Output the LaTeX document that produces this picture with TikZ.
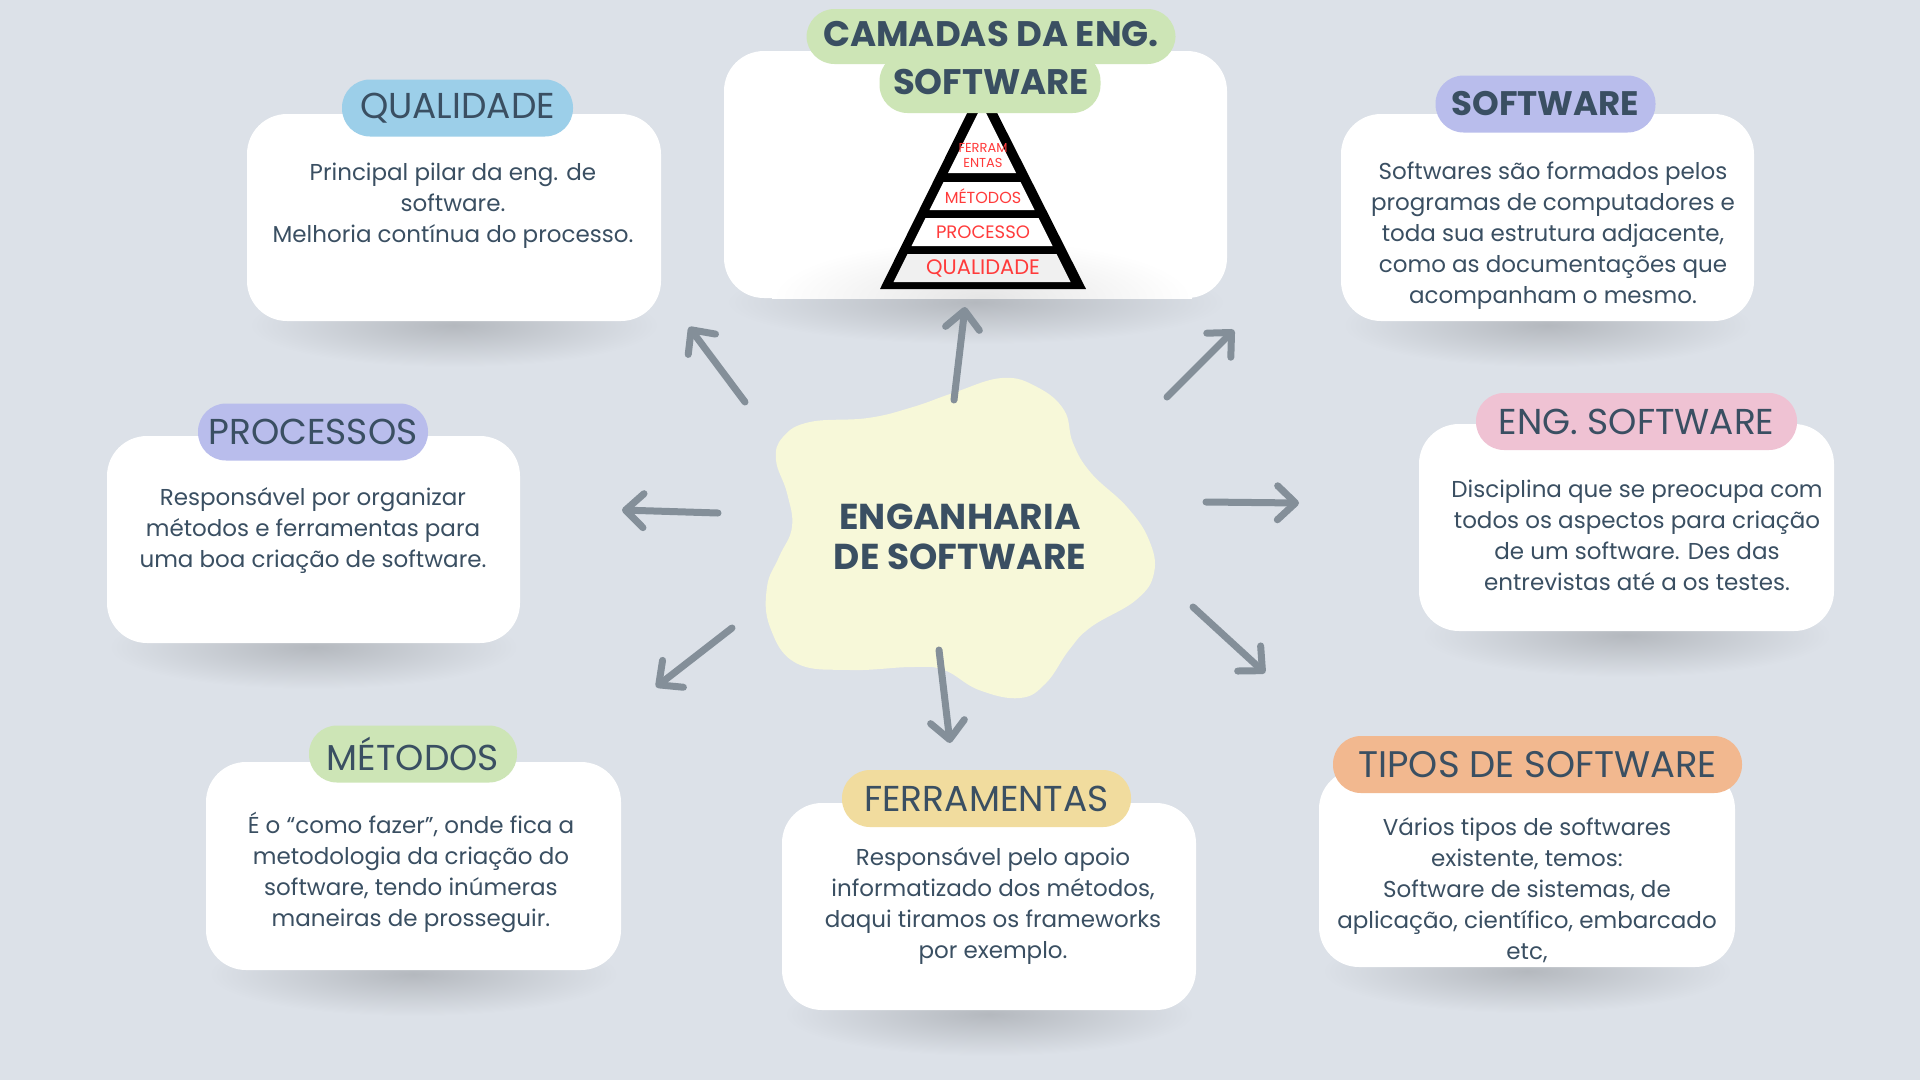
\documentclass[tikz,border=0pt]{standalone}
\usepackage{fontspec}
\setmainfont{Poppins}
\usetikzlibrary{arrows.meta}

\definecolor{bg}{HTML}{DCE1E8}
\definecolor{ink}{HTML}{3A4F62}
\definecolor{arrowc}{HTML}{848F99}
\definecolor{blobc}{HTML}{F7F8D9}
\definecolor{pblue}{HTML}{9CCFE9}
\definecolor{pgreen}{HTML}{CDE5B6}
\definecolor{plilac}{HTML}{B9BDEC}
\definecolor{ppink}{HTML}{EFC2D3}
\definecolor{pyellow}{HTML}{F1DC9E}
\definecolor{porange}{HTML}{F2B88F}
\definecolor{pyrred}{HTML}{FF3B3B}
\colorlet{shadowc}{bg!82!black}

\begin{document}
\begin{tikzpicture}[x=1pt,y=-1pt,
  card/.style={fill=white, rounded corners=40pt, inner sep=0pt},
  pill/.style={rounded corners=28pt, inner sep=0pt, minimum height=57pt,
    text=ink, font=\fontsize{36}{42}\selectfont},
  boldtitle/.style={text=ink, inner sep=0pt, align=center},
  bodytext/.style={text=ink, inner sep=0pt, align=center,
    font=\fontsize{23}{31}\selectfont},
  layer/.style={text=pyrred, inner sep=0pt, align=center},
  conn/.style={draw=arrowc, line width=7pt, line cap=round,
    -{Straight Barb[length=18pt, width=34pt, line cap=round, line join=round]}}
]
% canvas
\fill[bg] (0,0) rectangle (1920,1080);
\useasboundingbox (0,0) rectangle (1920,1080);

% ---------- soft shadows under the cards (centre x, bottom y, half width) ----------
\foreach \cx/\by/\hw in {454/321/205, 975.5/298/250, 1547.5/321/205, 313.5/643/205,
                         1626.5/631/205, 413.5/970/205, 989/1010/205, 1527/967/205}
  \shade[inner color=shadowc, outer color=bg] (\cx,\by+4) ellipse (\hw pt and 42pt);

% ---------- white cards ----------
\node[card, minimum width=414pt, minimum height=207pt] (qualbox) at (454,217.5) {};
\node[card, minimum width=503pt, minimum height=247pt] (cambox)  at (975.5,174.5) {};
\node[card, minimum width=413pt, minimum height=207pt] (softbox) at (1547.5,217.5) {};
\node[card, minimum width=413pt, minimum height=207pt] (procbox) at (313.5,539.5) {};
\node[card, minimum width=415pt, minimum height=207pt] (engbox)  at (1626.5,527.5) {};
\node[card, minimum width=415pt, minimum height=208pt] (metbox)  at (413.5,866) {};
\node[card, minimum width=414pt, minimum height=207pt] (ferbox)  at (989,906.5) {};
\node[card, minimum width=416pt, minimum height=198pt] (tipbox)  at (1527,868) {};

% ---------- layered pyramid ----------
\begin{scope}
  \clip (cambox.north west) rectangle (cambox.south east);
  \shade[inner color=black!10, outer color=white] (982,298) ellipse (210pt and 58pt);
\end{scope}
\fill[black] (982,83) -- (1086,289) -- (880,289) -- cycle;
\fill[white] (982,105) -- (1016,173) -- (948,173) -- cycle;
\fill[white] (943.5,182) -- (1020.5,182) -- (1034.5,210) -- (929.5,210) -- cycle;
\fill[white] (925.5,218) -- (1038.5,218) -- (1052.5,246) -- (911.5,246) -- cycle;
\fill[black!6] (907.5,254) -- (1056.5,254) -- (1070.5,282) -- (893.5,282) -- cycle;
\node[layer, font=\fontsize{13}{15}\selectfont] (lyfer) at (983,155.5) {FERRAM\\ENTAS};
\node[layer, font=\fontsize{16}{18}\selectfont] (lymet) at (983,196) {MÉTODOS};
\node[layer, font=\fontsize{18}{20}\selectfont] (lypro) at (983,232) {PROCESSO};
\node[layer, font=\fontsize{21}{24}\selectfont] (lyqua) at (983,268.5) {QUALIDADE};

% ---------- title pills ----------
\node[pill, fill=pblue,   minimum width=231pt] (qualpill) at (457.5,108) {QUALIDADE};
\node[pill, fill=pgreen,  minimum width=369pt, minimum height=55pt] (campillA) at (991,36.5) {};
\node[pill, fill=pgreen,  minimum width=221pt, minimum height=60pt] (campillB) at (990,83) {};
\node[boldtitle, font=\fontsize{35.5}{48}\selectfont\bfseries] (camtitle) at (991,58) {CAMADAS DA ENG.\\SOFTWARE};
\node[pill, fill=plilac,  minimum width=220pt, font=\fontsize{34}{40}\selectfont\bfseries] (softpill) at (1545.5,104) {SOFTWARE};
\node[pill, fill=plilac,  minimum width=230pt] (procpill) at (313,432) {PROCESSOS};
\node[pill, fill=ppink,   minimum width=321pt] (engpill)  at (1636.5,421.5) {ENG. SOFTWARE};
\node[pill, fill=pgreen,  minimum width=208pt] (metpill)  at (413,754) {MÉTODOS};
\node[pill, fill=pyellow, minimum width=289pt] (ferpill)  at (986.5,798.5) {FERRAMENTAS};
\node[pill, fill=porange, minimum width=409pt, font=\fontsize{37}{42}\selectfont] (tippill) at (1537.5,764.5) {TIPOS DE SOFTWARE};

% ---------- card texts ----------
\node[bodytext] (qualtxt) at (453,206) {Principal pilar da eng. de\\software.\\Melhoria contínua do processo.};
\node[bodytext] (softtxt) at (1553,236) {Softwares são formados pelos\\programas de computadores e\\toda sua estrutura adjacente,\\como as documentações que\\acompanham o mesmo.};
\node[bodytext] (proctxt) at (313,530) {Responsável por organizar\\métodos e ferramentas para\\uma boa criação de software.};
\node[bodytext] (engtxt)  at (1637,535.5) {Disciplina que se preocupa com\\todos os aspectos para criação\\de um software. Des das\\entrevistas até a os testes.};
\node[bodytext] (mettxt)  at (411,872) {É o “como fazer”, onde fica a\\metodologia da criação do\\software, tendo inúmeras\\maneiras de prosseguir.};
\node[bodytext] (fertxt)  at (993,906) {Responsável pelo apoio\\informatizado dos métodos,\\daqui tiramos os frameworks\\por exemplo.};
\node[bodytext] (tiptxt)  at (1527,890) {Vários tipos de softwares\\existente, temos:\\Software de sistemas, de\\aplicação, científico, embarcado\\etc,};

% ---------- central blob ----------
\fill[blobc] plot[smooth cycle, tension=0.7] coordinates {
  (953,393) (1002,378) (1037,387) (1064,410) (1073,443) (1091,473)
  (1127,507) (1149,540) (1154,573) (1136,600) (1091,627) (1069,650)
  (1046,683) (1020,698) (979,690) (944,670) (912,667) (850,670)
  (796,663) (770,627) (767,587) (779,557) (792,527) (787,493)
  (776,460) (783,437) (810,422) (868,418) (913,407)};
\node[boldtitle, font=\fontsize{36}{40}\selectfont\bfseries] (hub) at (960,537) {ENGANHARIA\\DE SOFTWARE};

% ---------- radiating arrows ----------
\coordinate (tUL) at (745,402);  \coordinate (hUL) at (689,327);
\coordinate (tU)  at (954,400);  \coordinate (hU)  at (965,307);
\coordinate (tUR) at (1167,397); \coordinate (hUR) at (1234,330);
\coordinate (tR)  at (1206,502); \coordinate (hR)  at (1299,503);
\coordinate (tDR) at (1193,607); \coordinate (hDR) at (1265,673);
\coordinate (tD)  at (939,650);  \coordinate (hD)  at (950,743);
\coordinate (tDL) at (732,628);  \coordinate (hDL) at (656,687);
\coordinate (tL)  at (718,513);  \coordinate (hL)  at (622,510);
\foreach \a in {UL,U,UR,R,DR,D,DL,L}
  \draw[conn] (t\a) -- (h\a);
\end{tikzpicture}
\end{document}
